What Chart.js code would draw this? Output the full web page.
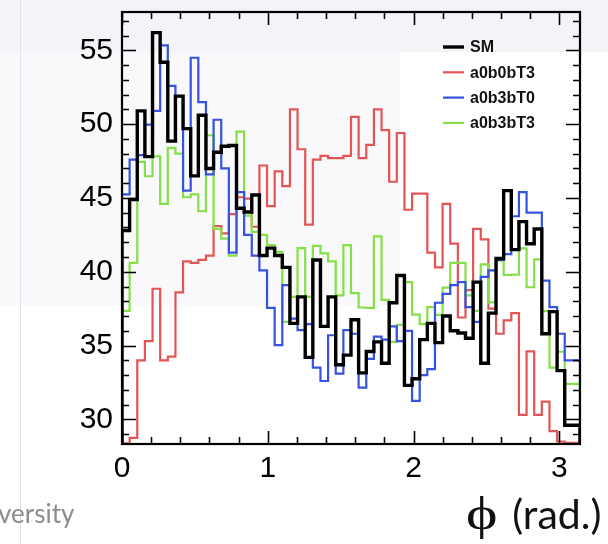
<!DOCTYPE html>
<html lang="en">
<head>
    <meta charset="UTF-8">
    <title>phi distribution</title>
    <script src="https://cdn.jsdelivr.net/npm/chart.js"></script>
    <style>
        html, body { margin: 0; padding: 0; background: #fff; }
        #wrap { position: relative; width: 608px; height: 544px; overflow: hidden; }
        #chart { position: absolute; left: 0; top: 0; }
        .tint { position: absolute; }
        .slide-text { position: absolute; white-space: nowrap; }
        .phi { display: inline-block; font-family: 'Liberation Serif', serif; font-size: 46px; transform: scaleX(1.3); transform-origin: left center; margin-right: 22px; }
    </style>
</head>
<body>
<div id="wrap">
    <!-- faint slide background behind the plot -->
    <div class="tint" style="left:0;top:0;width:608px;height:52px;background:#f4f4f8;"></div>
    <div class="tint" style="left:0;top:52px;width:400px;height:253px;background:#f9f9fb;"></div>
    <div class="tint" style="left:20px;top:0;width:1px;height:544px;background:#e2e2e6;"></div>

    <canvas id="chart" width="608" height="544"></canvas>

    <div class="slide-text" style="left:-2px;top:497px;font:26px Lato, 'Open Sans', sans-serif;color:#8c8c8c;">versity</div>
    <div class="slide-text" style="left:466px;top:487px;font:41px Lato, 'Open Sans', sans-serif;color:#111;"><span class="phi">ϕ</span>(rad.)</div>
</div>

<script>
    // 60 bins between 0 and pi
    const nBins = 60;
    const phiMax = Math.PI;
    const yMin = 28.33;
    const yMax = 57.6;

    const xTickLabels = [0, 1, 2, 3];
    const yTickLabels = [30, 35, 40, 45, 50, 55];

    const seriesNames = ['SM', 'a0b0bT3', 'a0b3bT0', 'a0b3bT3'];

    const smValues = [
        40.6, 42.8, 44.9, 50.9, 47.8, 56.2, 54.2, 48.85, 51.9, 49.7,
        46.5, 50.6, 47.0, 48.1, 48.5, 48.55, 44.3, 44.05, 45.2, 41.1,
        41.6, 41.1, 40.3, 36.5, 38.3, 34.2, 40.8, 36.3, 38.3, 33.7,
        34.35, 36.75, 33.15, 34.6, 35.25, 33.8, 37.9, 39.75, 32.3, 32.75,
        35.4, 36.5, 35.2, 37.0, 36.0, 35.85, 35.5, 39.3, 33.8, 37.2,
        40.9, 45.5, 41.5, 43.4, 41.9, 42.9, 35.8, 37.3, 33.3, 29.6
    ];
    const a0b0bT3Values = [
        28.37, 28.37, 28.75, 34.0, 35.3, 38.85, 34.0, 34.25, 38.6, 40.7,
        40.6, 40.8, 41.1, 43.1, 42.6, 43.9, 45.05, 44.95, 43.05, 47.2,
        44.45, 46.8, 45.8, 51.0, 48.3, 43.2, 47.6, 47.85, 47.7, 47.7,
        47.85, 50.5, 47.7, 48.6, 51.0, 49.6, 46.1, 49.4, 44.2, 45.3,
        45.3, 41.3, 40.3, 44.6, 41.9, 36.9, 38.75, 42.9, 42.2, 37.5,
        35.8, 36.7, 37.2, 30.3, 34.6, 30.3, 31.2, 29.2, 28.5, 28.4
    ];
    const a0b3bT0Values = [
        45.85, 45.25, 47.6, 47.9, 49.97, 50.9, 55.34, 52.6, 51.9, 45.5,
        54.5, 51.5, 46.6, 50.3, 47.0, 41.3, 45.4, 42.5, 41.1, 40.1,
        37.55, 35.03, 39.1, 36.83, 36.04, 36.45, 33.5, 32.6, 35.7, 33.1,
        36.05, 35.8, 32.15, 34.1, 35.6, 35.4, 36.3, 35.3, 36.0, 31.25,
        33.0, 33.4, 37.9, 38.5, 39.1, 39.3, 37.6, 36.6, 39.65, 40.1,
        40.8, 41.2, 43.76, 45.4, 44.0, 44.0, 39.4, 37.6, 35.8, 34.0
    ];
    const a0b3bT3Values = [
        37.96, 37.35, 40.6, 47.44, 46.47, 47.82, 44.6, 48.4, 48.0, 45.05,
        45.25, 44.1, 49.25, 42.9, 42.25, 41.1, 49.5, 43.8, 42.7, 42.5,
        41.8, 41.35, 36.6, 38.3, 41.6, 38.3, 41.75, 41.25, 40.7, 38.4,
        41.8, 38.55, 37.58, 37.55, 42.4, 38.1, 35.25, 36.4, 39.3, 37.1,
        36.45, 37.6, 37.08, 38.92, 40.6, 40.6, 38.4, 37.35, 40.5, 37.93,
        40.75, 39.78, 39.8, 41.58, 38.95, 40.84, 37.33, 33.5, 34.58, 32.4
    ];

    const colors = ['#000000', '#e35454', '#3552e0', '#84e046'];
    const widths = [3.4, 2.2, 2.2, 2.2];

    // histogram outline: up from the floor, one step per bin, back down at the end
    function toSteps(values) {
        const pts = [{ x: 0, y: yMin }];
        values.forEach((v, i) => pts.push({ x: i * phiMax / nBins, y: v }));
        pts.push({ x: phiMax, y: values[values.length - 1] });
        pts.push({ x: phiMax, y: yMin });
        return pts;
    }

    const allValues = [smValues, a0b0bT3Values, a0b3bT0Values, a0b3bT3Values];
    // SM on top, then blue, green, red underneath
    const drawOrder = [0, 3, 1, 2];

    const datasets = seriesNames.map((name, i) => ({
        label: name,
        data: toSteps(allValues[i]),
        stepped: 'after',
        borderColor: colors[i],
        borderWidth: widths[i],
        pointRadius: 0,
        fill: false,
        order: drawOrder[i]
    }));

    // ROOT-style frame with inward ticks on all four sides, plus the legend box
    const frameAndLegend = {
        id: 'frameAndLegend',
        afterDatasetsDraw(chart) {
            const { ctx, chartArea: a, scales: { x, y } } = chart;
            ctx.save();
            ctx.strokeStyle = '#000';
            ctx.lineWidth = 1.6;
            ctx.beginPath();
            for (let k = 0; k * 0.2 <= phiMax + 1e-9; k++) {
                const px = Math.round(x.getPixelForValue(k * 0.2)) + 0.5;
                const len = k % 5 === 0 ? 13 : 7;
                ctx.moveTo(px, a.bottom); ctx.lineTo(px, a.bottom - len);
                ctx.moveTo(px, a.top); ctx.lineTo(px, a.top + len);
            }
            for (let v = 29; v <= yMax; v++) {
                const py = Math.round(y.getPixelForValue(v)) + 0.5;
                const len = v % 5 === 0 ? 14 : 7;
                ctx.moveTo(a.left, py); ctx.lineTo(a.left + len, py);
                ctx.moveTo(a.right, py); ctx.lineTo(a.right - len, py);
            }
            ctx.stroke();

            ctx.lineWidth = 2.2;
            ctx.strokeRect(a.left, a.top, a.right - a.left, a.bottom - a.top);

            // legend
            const lx = a.right - 137;
            let ly = a.top + 35;
            ctx.font = 'bold 16px "Liberation Sans", Arial, sans-serif';
            ctx.textBaseline = 'middle';
            seriesNames.forEach((name, i) => {
                ctx.strokeStyle = colors[i];
                ctx.lineWidth = widths[i];
                ctx.beginPath();
                ctx.moveTo(lx, ly); ctx.lineTo(lx + 21, ly);
                ctx.stroke();
                ctx.fillStyle = '#111';
                ctx.fillText(name, lx + 27, ly + 1);
                ly += 25.3;
            });
            ctx.restore();
        }
    };

    const tickFont = { family: '"Liberation Sans", Arial, sans-serif', size: 30 };

    new Chart(document.getElementById('chart'), {
        type: 'line',
        data: { datasets },
        options: {
            responsive: false,
            devicePixelRatio: 1,
            animation: false,
            layout: { padding: { left: 0, top: 12, right: 28, bottom: 0 } },
            plugins: { legend: { display: false }, tooltip: { enabled: false } },
            scales: {
                x: {
                    type: 'linear',
                    min: 0,
                    max: phiMax,
                    grid: { display: false, drawTicks: false },
                    border: { display: false },
                    afterBuildTicks: s => { s.ticks = xTickLabels.map(v => ({ value: v })); },
                    afterFit: s => { s.height = 100; s.paddingLeft = 0; s.paddingRight = 0; },
                    ticks: { color: '#000', font: tickFont, padding: 7, maxRotation: 0 }
                },
                y: {
                    min: yMin,
                    max: yMax,
                    grid: { display: false, drawTicks: false },
                    border: { display: false },
                    afterBuildTicks: s => { s.ticks = yTickLabels.map(v => ({ value: v })); },
                    afterFit: s => { s.width = 122; s.paddingTop = 0; s.paddingBottom = 0; },
                    ticks: { color: '#000', font: tickFont, padding: 9 }
                }
            }
        },
        plugins: [frameAndLegend]
    });
</script>
</body>
</html>
